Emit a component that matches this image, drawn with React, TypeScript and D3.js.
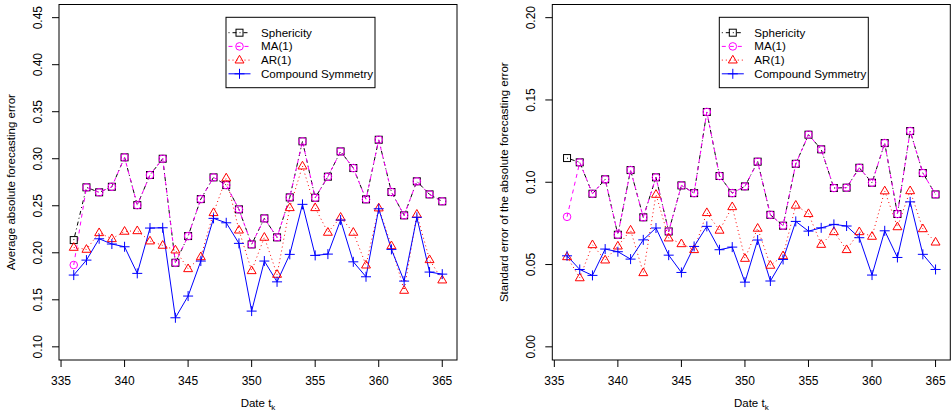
import { useEffect } from "react";
import * as d3 from "d3";

const days = d3.range(336, 366);

// left panel: average absolute forecasting error
const avgSphericity = [0.2135, 0.2696, 0.2643, 0.2702, 0.3015, 0.2507, 0.2827, 0.300, 0.1894, 0.2178, 0.2571, 0.2802, 0.272, 0.2462, 0.2089, 0.2366, 0.2164, 0.2589, 0.3185, 0.2585, 0.2809, 0.3078, 0.2901, 0.2568, 0.3202, 0.2646, 0.2398, 0.276, 0.2621, 0.2547];
const avgMA = [0.187, 0.2696, 0.2643, 0.2702, 0.3015, 0.2507, 0.2827, 0.300, 0.1894, 0.2178, 0.2571, 0.2802, 0.272, 0.2462, 0.2089, 0.2366, 0.2164, 0.2589, 0.3185, 0.2585, 0.2809, 0.3078, 0.2901, 0.2568, 0.3202, 0.2646, 0.2398, 0.276, 0.2621, 0.2547];
const avgAR = [0.2057, 0.2036, 0.2213, 0.2149, 0.2228, 0.2234, 0.2125, 0.2079, 0.2029, 0.183, 0.1957, 0.2426, 0.2795, 0.2241, 0.1809, 0.2164, 0.177, 0.2479, 0.2922, 0.2479, 0.2217, 0.2377, 0.2217, 0.1869, 0.2476, 0.2074, 0.16, 0.2409, 0.1926, 0.171];
const avgCS = [0.1763, 0.1922, 0.2149, 0.2093, 0.2064, 0.1781, 0.2263, 0.2266, 0.1309, 0.154, 0.1912, 0.2366, 0.2319, 0.21, 0.138, 0.1912, 0.1691, 0.1983, 0.2515, 0.1972, 0.1986, 0.2348, 0.1904, 0.1745, 0.2468, 0.2036, 0.1699, 0.2377, 0.1795, 0.1773];

// right panel: standard error of the absolute forecasting error
const seSphericity = [0.1147, 0.1121, 0.093, 0.1018, 0.0681, 0.1074, 0.0787, 0.103, 0.0701, 0.0981, 0.0934, 0.1427, 0.1038, 0.0934, 0.0975, 0.1125, 0.0802, 0.0736, 0.1112, 0.1289, 0.12, 0.0965, 0.0967, 0.1088, 0.0997, 0.1238, 0.0807, 0.1311, 0.1056, 0.0926];
const seMA = [0.079, 0.1121, 0.093, 0.1018, 0.0681, 0.1074, 0.0787, 0.103, 0.0701, 0.0981, 0.0934, 0.1427, 0.1038, 0.0934, 0.0975, 0.1125, 0.0802, 0.0736, 0.1112, 0.1289, 0.12, 0.0965, 0.0967, 0.1088, 0.0997, 0.1238, 0.0807, 0.1311, 0.1056, 0.0926];
const seAR = [0.0547, 0.0419, 0.062, 0.0527, 0.0612, 0.0709, 0.045, 0.0926, 0.0661, 0.0626, 0.059, 0.0815, 0.0708, 0.0851, 0.0537, 0.072, 0.0495, 0.0553, 0.086, 0.0809, 0.0622, 0.0699, 0.059, 0.0699, 0.0671, 0.0947, 0.0729, 0.0948, 0.0717, 0.0636];
const seCS = [0.0553, 0.047, 0.0434, 0.0594, 0.0578, 0.0533, 0.065, 0.0722, 0.0557, 0.0452, 0.061, 0.0732, 0.059, 0.0606, 0.0393, 0.0649, 0.04, 0.0531, 0.0762, 0.0703, 0.0723, 0.0744, 0.0734, 0.0663, 0.0436, 0.0705, 0.0543, 0.0881, 0.0562, 0.047];

const xTicks = [335, 340, 345, 350, 355, 360, 365];
const avgTicks = [0.1, 0.15, 0.2, 0.25, 0.3, 0.35, 0.4, 0.45];
const seTicks = [0, 0.05, 0.1, 0.15, 0.2];

const seriesNames = ["Sphericity", "MA(1)", "AR(1)", "Compound Symmetry"];
const styles = [
  { color: "#000000", dash: "1,3,4,3", pch: "square" },
  { color: "#ff00ff", dash: "4,4", pch: "circle" },
  { color: "#ff0000", dash: "1,3", pch: "triangle" },
  { color: "#0000ff", dash: "", pch: "plus" },
];

const FONT = "'Liberation Sans', Arial, Helvetica, sans-serif";
const W = 952;
const H = 417;
const TOP = 4.5;
const BOTTOM = 360;
const PANEL_W = 398;

function Marker({ x, y, pch, color }: { x: number; y: number; pch: string; color: string }) {
  if (pch === "square") return <rect x={x - 3.5} y={y - 3.5} width={7} height={7} fill="none" stroke={color} strokeWidth={1} />;
  if (pch === "circle") return <circle cx={x} cy={y} r={3.8} fill="none" stroke={color} strokeWidth={1} />;
  if (pch === "triangle") {
    const r = 4.8;
    return <path d={`M${x},${y - r} L${x + r * 0.93},${y + r * 0.6} L${x - r * 0.93},${y + r * 0.6} Z`} fill="none" stroke={color} strokeWidth={1} />;
  }
  return <path d={`M${x - 5},${y} H${x + 5} M${x},${y - 5} V${y + 5}`} stroke={color} strokeWidth={1} />;
}

function Panel({ left, series, domain, ticks, ylabel }: { left: number; series: number[][]; domain: [number, number]; ticks: number[]; ylabel: string }) {
  const pad = (domain[1] - domain[0]) * 0.04;
  const x = d3.scaleLinear().domain([336 - 29 * 0.04, 365 + 29 * 0.04]).range([left, left + PANEL_W]);
  const y = d3.scaleLinear().domain([domain[0] - pad, domain[1] + pad]).range([BOTTOM, TOP]);
  const line = d3.line<number>().x((_, i) => x(days[i])).y((v) => y(v));
  const lx = left + 167;
  const ly = 17.3;

  return (
    <g fontFamily={FONT}>
      {series.map((vals, s) => (
        <path key={`l${s}`} d={line(vals) || ""} fill="none" stroke={styles[s].color} strokeWidth={1} strokeDasharray={styles[s].dash} />
      ))}
      {series.map((vals, s) =>
        vals.map((v, i) => <Marker key={`m${s}-${i}`} x={x(days[i])} y={y(v)} pch={styles[s].pch} color={styles[s].color} />)
      )}
      <rect x={left} y={TOP} width={PANEL_W} height={BOTTOM - TOP} fill="none" stroke="#000" strokeWidth={1} />
      {xTicks.map((t) => (
        <g key={`x${t}`}>
          <line x1={x(t)} x2={x(t)} y1={BOTTOM} y2={BOTTOM + 7} stroke="#000" />
          <text x={x(t)} y={385} fontSize={12} textAnchor="middle" fill="#000">{t}</text>
        </g>
      ))}
      {ticks.map((t) => (
        <g key={`y${t}`}>
          <line x1={left - 7} x2={left} y1={y(t)} y2={y(t)} stroke="#000" />
          <text transform={`translate(${left - 17},${y(t)}) rotate(-90)`} fontSize={12} textAnchor="middle" fill="#000">{t.toFixed(2)}</text>
        </g>
      ))}
      <text transform={`translate(${left - 44},${(TOP + BOTTOM) / 2}) rotate(-90)`} fontSize={11.5} textAnchor="middle" fill="#000">{ylabel}</text>
      <text x={left + PANEL_W / 2} y={407} fontSize={11.5} textAnchor="middle" fill="#000">
        Date t<tspan fontSize={8} dy={3}>k</tspan>
      </text>
      <rect x={lx} y={ly} width={149} height={70.4} fill="#fff" stroke="#000" strokeWidth={1} />
      {seriesNames.map((name, s) => {
        const yy = ly + 15.4 + s * 13.7;
        return (
          <g key={name}>
            <line x1={lx + 2.5} x2={lx + 24.5} y1={yy} y2={yy} stroke={styles[s].color} strokeDasharray={styles[s].dash} />
            <Marker x={lx + 13.5} y={yy} pch={styles[s].pch} color={styles[s].color} />
            <text x={lx + 35} y={yy + 4} fontSize={11.6} fill="#000">{name}</text>
          </g>
        );
      })}
    </g>
  );
}

export default function App() {
  useEffect(() => {
    document.body.style.margin = "0";
  }, []);

  return (
    <svg width={W} height={H} style={{ display: "block", background: "#fff" }}>
      <Panel left={59} series={[avgSphericity, avgMA, avgAR, avgCS]} domain={[0.1, 0.45]} ticks={avgTicks} ylabel="Average absolute forecasting error" />
      <Panel left={552.3} series={[seSphericity, seMA, seAR, seCS]} domain={[0, 0.2]} ticks={seTicks} ylabel="Standard error of the absolute forecasting error" />
    </svg>
  );
}
